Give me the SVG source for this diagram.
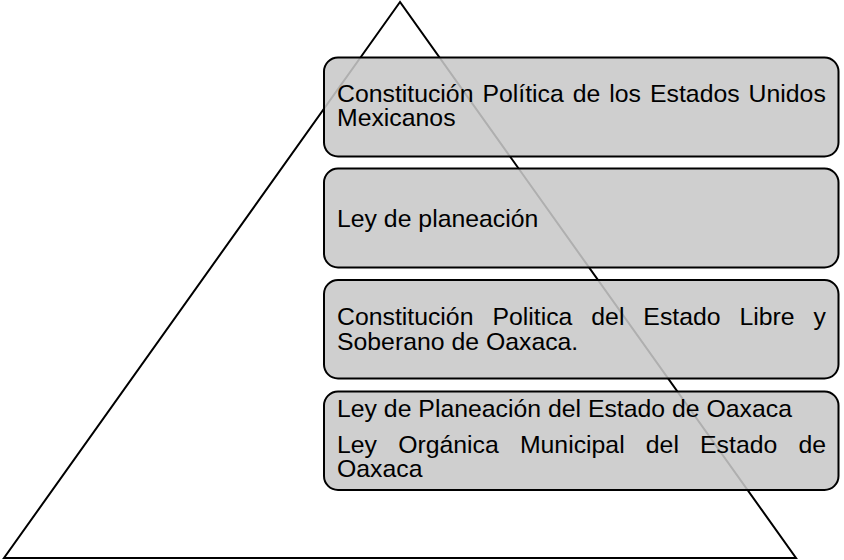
<svg xmlns="http://www.w3.org/2000/svg" width="844" height="560" viewBox="0 0 844 560">
<style>
.box{fill:rgb(200,200,200);fill-opacity:0.875;stroke:#000;stroke-width:2}
.t{font-family:"Liberation Sans",Arial,sans-serif;font-size:24.8px;fill:#000}
</style>
<rect width="844" height="560" fill="#fff"/>
<g id="triangle">
<polygon points="400,2 4,558 796,558" fill="none" stroke="#000" stroke-width="2" stroke-linejoin="miter"/>
</g>
<g id="node1">
<rect class="box" x="324" y="57.5" width="514.5" height="99" rx="14" ry="14"/>
<text class="t" x="337" y="101.5" word-spacing="2.1">Constitución Política de los Estados Unidos</text>
<text class="t" x="337" y="126">Mexicanos</text>
</g>
<g id="node2">
<rect class="box" x="324" y="168.5" width="514.5" height="99" rx="14" ry="14"/>
<text class="t" x="337" y="227">Ley de planeación</text>
</g>
<g id="node3">
<rect class="box" x="324" y="280" width="514.5" height="98.5" rx="14" ry="14"/>
<text class="t" x="337" y="325" word-spacing="12.07">Constitución Politica del Estado Libre y</text>
<text class="t" x="337" y="349.5">Soberano de Oaxaca.</text>
</g>
<g id="node4">
<rect class="box" x="324" y="391.5" width="514.5" height="98.5" rx="14" ry="14"/>
<text class="t" x="337" y="417">Ley de Planeación del Estado de Oaxaca</text>
<text class="t" x="337" y="452.5" word-spacing="14.27">Ley Orgánica Municipal del Estado de</text>
<text class="t" x="337" y="477.3">Oaxaca</text>
</g>
<g id="connectors"></g>
</svg>
